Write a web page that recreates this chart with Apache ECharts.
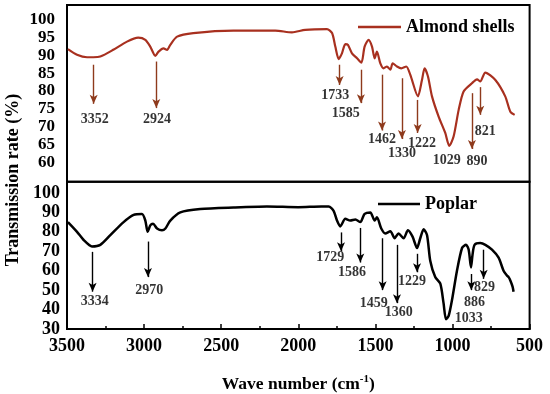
<!DOCTYPE html>
<html><head><meta charset="utf-8">
<script src="https://cdn.jsdelivr.net/npm/echarts@6/dist/echarts.min.js"></script>
<style>html,body{margin:0;padding:0;background:#fff}#c{width:550px;height:394px}</style>
</head><body><div id="c"></div>
<script>
// ---- Data ----
const almondWave = [3494,3435,3370,3329,3284,3200,3111,3038,2992,2960,2927,2906,2874,2851,2830,2786,2681,2421,2149,2041,1955,1814,1781,1760,1738,1717,1695,1678,1652,1619,1591,1570,1544,1522,1505,1490,1468,1447,1425,1403,1388,1360,1332,1300,1274,1224,1198,1181,1159,1133,1090,1047,1021,993,960,928,874,841,820,787,722,658,625,597];
const almondT    = [91.8,90.2,89.5,89.5,89.7,91.6,93.9,95.0,94.4,92.5,89.9,91.1,92.0,91.6,93.0,95.3,96.3,97.0,97.0,96.5,97.2,97.4,96.3,92.5,89.0,90.6,93.2,93.0,90.6,89.2,88.0,92.5,94.4,92.5,89.2,91.1,87.8,86.4,86.9,86.0,87.8,86.9,86.4,86.9,84.6,78.5,83.1,86.4,84.1,78.5,72.8,68.2,64.6,67.2,74.7,79.9,82.2,83.3,82.7,85.2,83.1,78.5,74.2,73.3];

const poplarWave = [3494,3435,3392,3338,3284,3219,3133,3068,3014,2992,2977,2960,2942,2916,2884,2862,2830,2765,2636,2420,2203,2000,1850,1803,1771,1749,1728,1695,1663,1630,1598,1570,1533,1505,1490,1462,1436,1403,1375,1350,1317,1289,1259,1230,1209,1187,1165,1144,1112,1079,1058,1042,1025,1003,971,938,912,895,880,870,857,820,787,744,701,669,647,636,625,610,604];
const poplarT    = [85.0,80.0,75.8,72.5,73.3,78.3,85.0,88.7,89.2,85.8,80.0,83.3,84.2,81.7,80.8,81.7,85.8,90.0,91.7,92.5,93.0,92.7,93.0,93.0,90.8,85.8,82.8,86.7,85.8,86.3,85.0,89.2,90.0,85.8,87.5,81.7,79.2,80.3,76.7,79.2,76.7,80.8,77.5,71.7,76.7,81.3,78.3,65.0,56.7,53.3,43.3,35.0,36.7,45.0,60.0,71.7,73.3,70.8,61.7,68.3,73.3,74.2,73.3,70.8,66.7,60.0,57.5,56.7,55.0,51.7,49.2];

// annotations: [wave, arrowStart, arrowEnd]
const almondArrows = [[3327,87.4,76.4],[2921,88.3,75.2],[1732,87.4,81.7],[1594,86.0,76.6],[1457,84.6,68.9],[1328,83.6,66.5],[1226,77.5,68.2],[874,79.4,63.7],[820,81.1,73.3]];
// labels: [wave, value, text]
const almondLabels = [[3320,72.1,'3352'],[2917,72.1,'2924'],[1760,78.7,'1733'],[1693,73.8,'1585'],[1457,66.3,'1462'],[1328,62.4,'1330'],[1198,65.2,'1222'],[1038,60.5,'1029'],[841,60.2,'890'],[787,68.6,'821']];

const poplarArrows = [[3334,69.7,49.2],[2975,75.0,56.7],[1723,79.7,70.0],[1598,82.0,64.2],[1453,76.7,50.0],[1360,73.3,43.3],[1230,68.7,59.2],[878,58.3,50.0],[798,70.8,55.8]];
const poplarLabels = [[3320,44.2,'3334'],[2966,50.0,'2970'],[1792,66.7,'1729'],[1652,59.2,'1586'],[1511,43.3,'1459'],[1349,38.3,'1360'],[1263,54.7,'1229'],[895,35.3,'1033'],[857,43.7,'886'],[792,51.2,'829']];

const yTicksTop = [60,65,70,75,80,85,90,95,100];
const yTicksBottom = [30,40,50,60,70,80,90,100];

// ---- Chart ----
const FF = "'Liberation Serif','Times New Roman',serif";
const topColor = '#a8301f';
const arrowTop = '#8e3a1c';
const chart = echarts.init(document.getElementById('c'), null, {renderer:'canvas'});

function zip(a,b){return a.map((w,i)=>[w,b[i]]);}
function arrowData(arr){return arr.map(a=>[{coord:[a[0],a[1]]},{coord:[a[0],a[2]]}]);}
function labelSeries(arr, idx){
  return {type:'scatter', xAxisIndex:idx, yAxisIndex:idx, symbol:'circle', symbolSize:1,
    itemStyle:{color:'rgba(0,0,0,0)'}, silent:true, z:5,
    label:{show:true, position:'inside', formatter:p=>p.data[2], color:'#000', fontFamily:FF, fontWeight:'bold', fontSize:14},
    data:arr};
}

const option = {
  animation:false,
  grid:[
    {left:67, top:5, width:462.6, height:176.7, show:true, borderColor:'#000', borderWidth:2, backgroundColor:'transparent'},
    {left:67, top:181.7, width:462.6, height:151.6, show:true, borderColor:'#000', borderWidth:2, backgroundColor:'transparent'}
  ],
  xAxis:[
    {type:'value', gridIndex:0, min:500, max:3500, interval:500, inverse:true, show:false},
    {type:'value', gridIndex:1, min:500, max:3500, interval:500, inverse:true,
     axisLine:{show:true, lineStyle:{color:'#000', width:2}},
     axisTick:{show:true, inside:true, length:5, lineStyle:{color:'#000', width:1.5}},
     minorTick:{show:true, splitNumber:2, length:3, lineStyle:{color:'#000', width:1.5}},
     splitLine:{show:false},
     axisLabel:{formatter:v=>String(v), color:'#000', fontFamily:FF, fontWeight:'bold', fontSize:18, margin:8},
     name:'{a|Wave number (cm}{s|-1}{a|)}', nameLocation:'middle', nameGap:45,
     nameTextStyle:{rich:{
       a:{fontFamily:FF, fontWeight:'bold', fontSize:17.5, color:'#000'},
       s:{fontFamily:FF, fontWeight:'bold', fontSize:11, color:'#000', padding:[0,0,9,0]}
     }}
    }
  ],
  yAxis:[
    {type:'value', gridIndex:0, min:54.5, max:104.2,
     axisLine:{show:false}, axisTick:{show:false}, splitLine:{show:false},
     axisLabel:{customValues:yTicksTop, hideOverlap:false, showMinLabel:true, showMaxLabel:true, lineHeight:14, color:'#000', fontFamily:FF, fontWeight:'bold', fontSize:17, margin:12}},
    {type:'value', gridIndex:1, min:30, max:105.8,
     axisLine:{show:false}, axisTick:{show:false}, splitLine:{show:false},
     axisLabel:{customValues:yTicksBottom, hideOverlap:false, showMinLabel:true, showMaxLabel:true, color:'#000', fontFamily:FF, fontWeight:'bold', fontSize:18, margin:7}}
  ],
  legend:[
    {data:['Almond shells'], left:358, top:18, padding:0, icon:'rect', itemWidth:43, itemHeight:2.5, itemGap:5,
     textStyle:{fontFamily:FF, fontWeight:'bold', fontSize:18, color:'#000'}},
    {data:['Poplar'], left:378, top:195, padding:0, icon:'rect', itemWidth:42, itemHeight:2.5, itemGap:5,
     textStyle:{fontFamily:FF, fontWeight:'bold', fontSize:18, color:'#000'}}
  ],
  graphic:[
    {type:'text', x:13, y:180, rotation:Math.PI/2,
     style:{text:'Transmission rate (%)', font:"bold 18px 'Liberation Serif', serif", fill:'#000', textAlign:'center', textVerticalAlign:'middle'}}
  ],
  series:[
    {name:'Almond shells', type:'line', xAxisIndex:0, yAxisIndex:0, data:zip(almondWave, almondT),
     symbol:'none', smooth:0.25, lineStyle:{color:topColor, width:2.2}, itemStyle:{color:topColor},
     markLine:{silent:true, symbol:['none','arrow'], symbolSize:[6,9], label:{show:false},
       lineStyle:{color:arrowTop, width:1.4, type:'solid'}, data:arrowData(almondArrows)}},
    {name:'Poplar', type:'line', xAxisIndex:1, yAxisIndex:1, data:zip(poplarWave, poplarT),
     symbol:'none', smooth:0.25, lineStyle:{color:'#000', width:2.5}, itemStyle:{color:'#000'},
     markLine:{silent:true, symbol:['none','arrow'], symbolSize:[6,9], label:{show:false},
       lineStyle:{color:'#000', width:1.4, type:'solid'}, data:arrowData(poplarArrows)}},
    labelSeries(almondLabels, 0),
    labelSeries(poplarLabels, 1)
  ]
};
chart.setOption(option);
</script>
</body></html>
